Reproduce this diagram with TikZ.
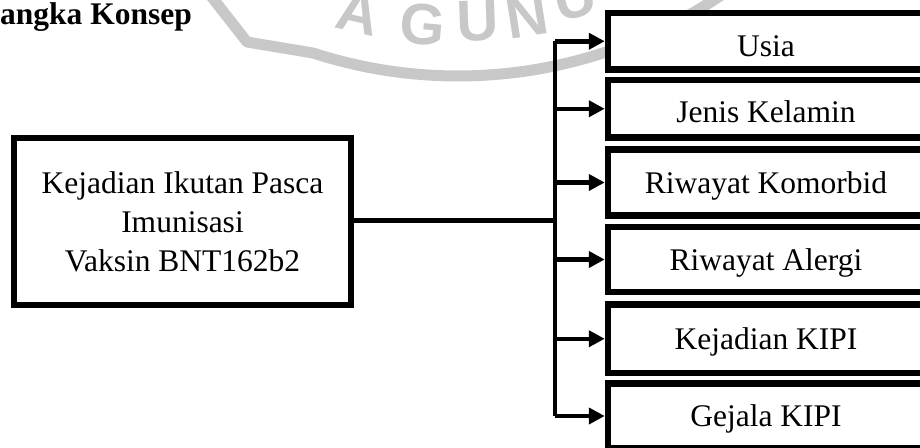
\documentclass[tikz,border=0pt]{standalone}
\usepackage{fontspec}
\setmainfont{Liberation Serif}
\newfontfamily\wmfont{Liberation Sans}
\usetikzlibrary{arrows.meta}
\definecolor{wmgrey}{RGB}{200,200,200}
\begin{document}
\begin{tikzpicture}[x=1pt,y=-1pt,
  txt/.style={font=\fontsize{31.5}{39}\selectfont},
  box/.style={draw, line width=6.5pt, fill=white, inner sep=0pt, txt},
  varbox/.style={box, minimum width=316pt, text depth=0pt, text height=#1},
  varbox/.default=21pt,
  link/.style={line width=4.5pt},
  arr/.style={line width=4.5pt, -{Triangle[length=16pt,width=16pt]}},
  wm/.style={text=wmgrey, inner sep=0pt, font=\wmfont\bfseries\fontsize{58}{58}\selectfont},
]
\useasboundingbox (0,0) rectangle (920,447);

% faint watermark behind the diagram
\draw[wmgrey, line width=11pt, line join=round]
  (211,-4) -- (247,42) -- (313,53)
  -- plot[domain=108:55, samples=60] ({458+468.6*cos(\x)},{-392.6+468.6*sin(\x)});
\node[wm, rotate=-13] (wmA)  at (358,13) {A};
\node[wm, rotate=-5]  (wmG)  at (423,25) {G};
\node[wm, rotate=2]   (wmU)  at (478,21) {U};
\node[wm, rotate=9]   (wmN)  at (527,17) {N};
\node[wm, rotate=15]  (wmU2) at (575,-2) {U};

% heading
\node[anchor=base west, inner sep=0pt, font=\bfseries\fontsize{31.5}{39}\selectfont] (title) at (0,24) {angka Konsep};

% main box
\node[box, align=center, minimum width=337pt, minimum height=167pt] (kip) at (182.5,221.5)
  {Kejadian Ikutan Pasca\\Imunisasi\\Vaksin BNT162b2};

% variable boxes
\node[varbox=29.5pt, minimum height=56.5pt] (b1) at (766,41.25)  {Usia};
\node[varbox=26.5pt, minimum height=57.5pt] (b2) at (766,108.75) {Jenis Kelamin};
\node[varbox, minimum height=66pt]   (b3) at (766,182.5)  {Riwayat Komorbid};
\node[varbox, minimum height=65pt]   (b4) at (766,259.5)  {Riwayat Alergi};
\node[varbox, minimum height=68.5pt] (b5) at (766,338.75) {Kejadian KIPI};
\node[varbox, minimum height=65pt]   (b6) at (766,416)    {Gejala KIPI};

% connectors
\coordinate (hub) at (555,220.5);
\draw[link] (kip.east |- hub) -- (hub);
\draw[link, line cap=square] (hub |- b1.west) -- (hub |- b6.west);
\foreach \b in {b1,b2,b3,b4,b5,b6}
  \draw[arr] (hub |- \b.west) -- (\b.west);
\end{tikzpicture}
\end{document}
